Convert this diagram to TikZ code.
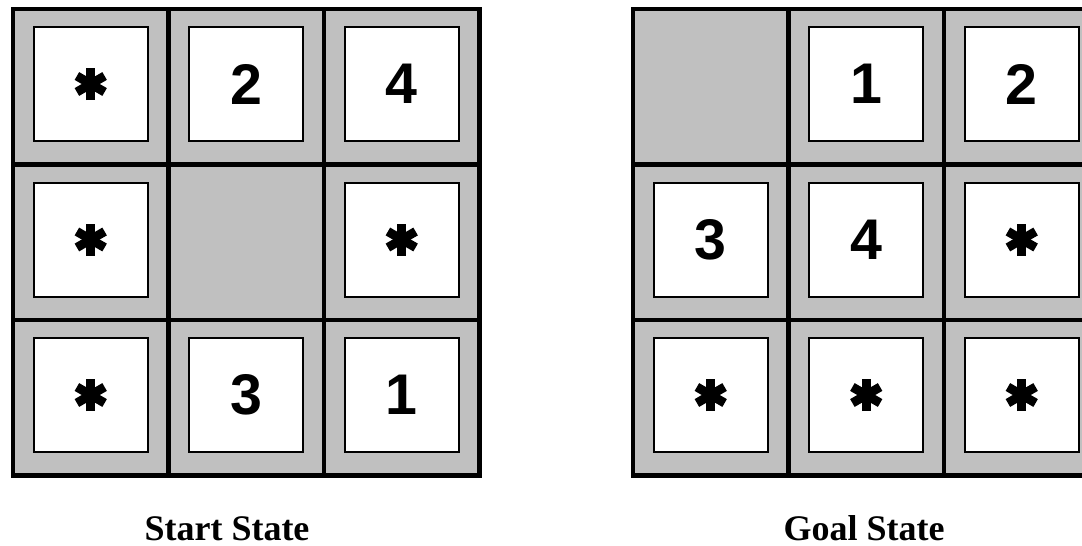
\documentclass[tikz,border=0pt]{standalone}
\usepackage{fontspec}
\setmainfont{Liberation Serif}
\newfontfamily\tilefont{Liberation Sans}

\definecolor{cellgray}{RGB}{192,192,192}

\begin{document}
\begin{tikzpicture}[x=0.75pt, y=-0.75pt,
	tile/.style={draw, line width=1.5pt, fill=white, inner sep=0pt, minimum size=85.5pt,
		font=\tilefont\bfseries\fontsize{43pt}{43pt}\selectfont},
	spoke/.style={line width=6.75pt},
	gridline/.style={line width=3.3pt},
	caption/.style={anchor=base, inner sep=0pt, font=\bfseries\fontsize{27pt}{27pt}\selectfont}]

	\useasboundingbox (0,0) rectangle (1082,546);
	\clip (0,0) rectangle (1082,546);

	% start state
	\fill[cellgray] (13,9) rectangle (479.5,475.5);
	\foreach \c/\r/\v in {1/0/2, 2/0/4, 1/2/3, 2/2/1} {
		\node[tile] (s\c\r) at (13+155.5*\c+77.75, 9+155.5*\r+75) {\v};
	}
	\foreach \c/\r in {0/0, 0/1, 2/1, 0/2} {
		\node[tile] (s\c\r) at (13+155.5*\c+77.75, 9+155.5*\r+75) {};
		\foreach \a in {30,90,150}
			\draw[spoke] ([shift={(\a:16)}]s\c\r.center) -- ([shift={(\a+180:16)}]s\c\r.center);
	}
	\draw[gridline] (13,9) rectangle (479.5,475.5);
	\foreach \k in {1,2} {
		\draw[gridline] (13+155.5*\k, 9) -- (13+155.5*\k, 475.5);
		\draw[gridline] (13, 9+155.5*\k) -- (479.5, 9+155.5*\k);
	}
	\node[caption] (start) at (227,540) {Start State};

	% goal state
	\fill[cellgray] (633,9) rectangle (1099.5,475.5);
	\foreach \c/\r/\v in {1/0/1, 2/0/2, 0/1/3, 1/1/4} {
		\node[tile] (g\c\r) at (633+155.5*\c+77.75, 9+155.5*\r+75) {\v};
	}
	\foreach \c/\r in {2/1, 0/2, 1/2, 2/2} {
		\node[tile] (g\c\r) at (633+155.5*\c+77.75, 9+155.5*\r+75) {};
		\foreach \a in {30,90,150}
			\draw[spoke] ([shift={(\a:16)}]g\c\r.center) -- ([shift={(\a+180:16)}]g\c\r.center);
	}
	\draw[gridline] (633,9) rectangle (1099.5,475.5);
	\foreach \k in {1,2} {
		\draw[gridline] (633+155.5*\k, 9) -- (633+155.5*\k, 475.5);
		\draw[gridline] (633, 9+155.5*\k) -- (1099.5, 9+155.5*\k);
	}
	\node[caption] (goal) at (864,540) {Goal State};
\end{tikzpicture}
\end{document}
